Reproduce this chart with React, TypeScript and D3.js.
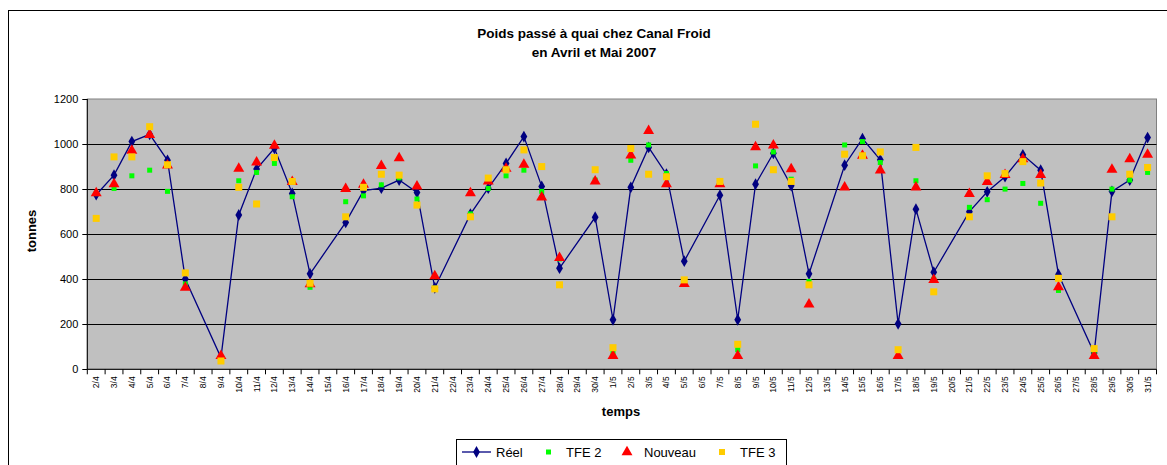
import React, { useEffect, useRef } from 'react';
import * as d3 from 'd3';

// x categories (days of April and May 2007)
const days = [
  '2/4', '3/4', '4/4', '5/4', '6/4', '7/4', '8/4', '9/4', '10/4', '11/4', '12/4', '13/4', '14/4', '15/4',
  '16/4', '17/4', '18/4', '19/4', '20/4', '21/4', '22/4', '23/4', '24/4', '25/4', '26/4', '27/4', '28/4',
  '29/4', '30/4', '1/5', '2/5', '3/5', '4/5', '5/5', '6/5', '7/5', '8/5', '9/5', '10/5', '11/5', '12/5',
  '13/5', '14/5', '15/5', '16/5', '17/5', '18/5', '19/5', '20/5', '21/5', '22/5', '23/5', '24/5', '25/5',
  '26/5', '27/5', '28/5', '29/5', '30/5', '31/5',
];

const reel = [
  775, 862, 1011, 1043, 928, 401, null, 52, 685, 889, 981, 781, 424, null,
  652, 793, 804, 840, 785, 362, null, 689, 804, 914, 1033, 812, 449,
  null, 675, 220, 808, 985, 866, 480, null, 773, 220, 822, 959, 815, 424,
  null, 906, 1024, 930, 202, 711, 431, null, 700, 788, 855, 952, 884,
  421, null, 72, 790, 840, 1029,
];

const tfe2 = [
  780, 803, 859, 884, 790, 379, null, 45, 837, 874, 914, 766, 364, null,
  744, 770, 819, 850, 756, 360, null, 690, 803, 859, 884, 790, 490,
  null, 840, 70, 928, 996, 869, 390, null, 830, 87, 903, 965, 844, 390,
  null, 996, 1011, 918, 87, 837, 400, null, 719, 753, 800, 825, 737,
  350, null, 75, 800, 840, 874,
];

const nouveau = [
  785, 825, 973, 1043, 908, 365, null, 62, 893, 921, 995, 834, 380, null,
  803, 822, 906, 940, 815, 416, null, 785, 837, 893, 911, 766, 497,
  null, 837, 62, 952, 1061, 825, 382, null, 825, 62, 989, 996, 891, 291,
  null, 810, 951, 886, 62, 810, 399, null, 781, 834, 866, 936, 866,
  367, null, 62, 889, 936, 955,
];

const tfe3 = [
  670, 943, 943, 1077, 908, 428, null, 37, 808, 734, 940, 834, 382, null,
  677, 808, 866, 862, 729, 357, null, 677, 849, 886, 974, 900, 375,
  null, 886, 96, 980, 866, 855, 397, null, 834, 111, 1088, 886, 834, 375,
  null, 955, 948, 965, 87, 985, 344, null, 677, 859, 869, 922, 827,
  404, null, 92, 677, 866, 896,
];

const yTicks = [0, 200, 400, 600, 800, 1000, 1200];

const FONT = '"Liberation Sans", Arial, sans-serif';

export default function App() {
  const svgRef = useRef<SVGSVGElement>(null);

  useEffect(() => {
    if (!svgRef.current) return;
    const W = 1167, H = 465;
    const plot = { left: 87.3, right: 1156.5, top: 99, bottom: 369.3 };

    d3.select(svgRef.current).selectAll('*').remove();
    const svg = d3.select(svgRef.current).attr('width', W).attr('height', H);

    // chart area frame
    svg.append('rect')
      .attr('x', 8.5).attr('y', 10.5).attr('width', W + 10).attr('height', H)
      .attr('fill', '#fff').attr('stroke', '#000').attr('stroke-width', 1);

    const x = d3.scaleBand<string>().domain(days).range([plot.left, plot.right]).padding(0);
    const y = d3.scaleLinear().domain([0, 1200]).range([plot.bottom, plot.top]);
    const cx = (i: number) => (x(days[i]) as number) + x.bandwidth() / 2;

    // plot background
    svg.append('rect')
      .attr('x', plot.left).attr('y', plot.top)
      .attr('width', plot.right - plot.left).attr('height', plot.bottom - plot.top)
      .attr('fill', '#c0c0c0').attr('stroke', '#808080').attr('stroke-width', 1);

    // gridlines
    svg.append('g').selectAll('line')
      .data(yTicks.filter(t => t > 0 && t < 1200))
      .join('line')
      .attr('x1', plot.left).attr('x2', plot.right)
      .attr('y1', d => Math.round(y(d)) + 0.5).attr('y2', d => Math.round(y(d)) + 0.5)
      .attr('stroke', '#000').attr('stroke-width', 1);

    // y axis
    const yAxis = svg.append('g');
    yAxis.append('line')
      .attr('x1', plot.left).attr('x2', plot.left)
      .attr('y1', plot.top).attr('y2', plot.bottom)
      .attr('stroke', '#000');
    yAxis.selectAll('line.tick')
      .data(yTicks).join('line').attr('class', 'tick')
      .attr('x1', plot.left - 5).attr('x2', plot.left)
      .attr('y1', d => Math.round(y(d)) + 0.5).attr('y2', d => Math.round(y(d)) + 0.5)
      .attr('stroke', '#000');
    yAxis.selectAll('text')
      .data(yTicks).join('text')
      .attr('x', plot.left - 9).attr('y', d => y(d) + 4)
      .attr('text-anchor', 'end')
      .attr('font-family', FONT).attr('font-size', 11)
      .text(d => d);

    // x axis
    const xAxis = svg.append('g');
    xAxis.append('line')
      .attr('x1', plot.left).attr('x2', plot.right)
      .attr('y1', plot.bottom).attr('y2', plot.bottom)
      .attr('stroke', '#000');
    xAxis.selectAll('line.tick')
      .data(d3.range(days.length + 1)).join('line').attr('class', 'tick')
      .attr('x1', i => plot.left + i * x.bandwidth()).attr('x2', i => plot.left + i * x.bandwidth())
      .attr('y1', plot.bottom).attr('y2', plot.bottom + 5)
      .attr('stroke', '#000');
    xAxis.selectAll('text')
      .data(days).join('text')
      .attr('transform', (d, i) => `translate(${cx(i) + 3},${plot.bottom + 7}) rotate(-90)`)
      .attr('text-anchor', 'end')
      .attr('font-family', FONT).attr('font-size', 8.5)
      .text(d => d);

    // titles
    const title = svg.append('text')
      .attr('text-anchor', 'middle')
      .attr('font-family', FONT).attr('font-size', 13.5).attr('font-weight', 'bold');
    title.append('tspan').attr('x', 594).attr('y', 38).text('Poids passé à quai chez Canal Froid');
    title.append('tspan').attr('x', 594).attr('y', 57).text('en Avril et Mai 2007');

    svg.append('text')
      .attr('x', 621).attr('y', 416)
      .attr('text-anchor', 'middle')
      .attr('font-family', FONT).attr('font-size', 13).attr('font-weight', 'bold')
      .text('temps');

    svg.append('text')
      .attr('transform', `translate(${36},${231}) rotate(-90)`)
      .attr('text-anchor', 'middle')
      .attr('font-family', FONT).attr('font-size', 13).attr('font-weight', 'bold')
      .text('tonnes');

    // Réel line (connects across missing days)
    const reelPts = reel.map((v, i) => ({ i, v })).filter(d => d.v !== null) as { i: number; v: number }[];
    const line = d3.line<{ i: number; v: number }>().x(d => cx(d.i)).y(d => y(d.v));
    svg.append('path')
      .datum(reelPts)
      .attr('d', line)
      .attr('fill', 'none').attr('stroke', '#000080').attr('stroke-width', 1.3);

    const diamond = d3.symbol().type(d3.symbolDiamond).size(40)();
    const triangle = d3.symbol().type(d3.symbolTriangle).size(52)();

    svg.append('g').selectAll('path')
      .data(reelPts).join('path')
      .attr('d', diamond)
      .attr('transform', d => `translate(${cx(d.i)},${y(d.v)})`)
      .attr('fill', '#000080');

    const pts = (arr: (number | null)[]) =>
      arr.map((v, i) => ({ i, v })).filter(d => d.v !== null) as { i: number; v: number }[];

    svg.append('g').selectAll('rect')
      .data(pts(tfe2)).join('rect')
      .attr('x', d => cx(d.i) - 2.5).attr('y', d => y(d.v) - 2.5)
      .attr('width', 5).attr('height', 5)
      .attr('fill', '#00ff00');

    svg.append('g').selectAll('path')
      .data(pts(nouveau)).join('path')
      .attr('d', triangle)
      .attr('transform', d => `translate(${cx(d.i)},${y(d.v) + 0.5})`)
      .attr('fill', '#ff0000');

    svg.append('g').selectAll('rect')
      .data(pts(tfe3)).join('rect')
      .attr('x', d => cx(d.i) - 3.5).attr('y', d => y(d.v) - 3.5)
      .attr('width', 7).attr('height', 7)
      .attr('fill', '#ffcc00');

    // legend
    const lg = svg.append('g');
    lg.append('rect')
      .attr('x', 456.5).attr('y', 439.5).attr('width', 330).attr('height', 40)
      .attr('fill', '#fff').attr('stroke', '#000');
    const ly = 452;
    lg.append('line').attr('x1', 462).attr('x2', 491).attr('y1', ly).attr('y2', ly)
      .attr('stroke', '#000080').attr('stroke-width', 1.3);
    lg.append('path').attr('d', diamond).attr('transform', `translate(476.5,${ly})`).attr('fill', '#000080');
    lg.append('rect').attr('x', 546).attr('y', ly - 2.5).attr('width', 5).attr('height', 5).attr('fill', '#00ff00');
    lg.append('path').attr('d', triangle).attr('transform', `translate(627,${ly})`).attr('fill', '#ff0000');
    lg.append('rect').attr('x', 719).attr('y', ly - 3).attr('width', 6).attr('height', 6).attr('fill', '#ffcc00');
    const labels = [
      { t: 'Réel', x: 496 },
      { t: 'TFE 2', x: 566 },
      { t: 'Nouveau', x: 644 },
      { t: 'TFE 3', x: 740 },
    ];
    lg.selectAll('text').data(labels).join('text')
      .attr('x', d => d.x).attr('y', ly + 5)
      .attr('font-family', FONT).attr('font-size', 13)
      .text(d => d.t);
  }, []);

  return (
    <div style={{ position: 'absolute', left: 0, top: 0 }}>
      <svg ref={svgRef} style={{ display: 'block' }} />
    </div>
  );
}
